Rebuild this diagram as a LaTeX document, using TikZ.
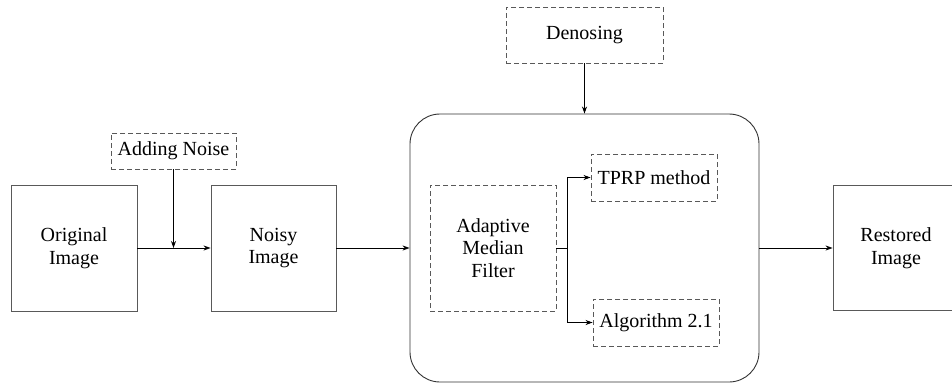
\documentclass[tikz,border=0pt]{standalone}
\usepackage{fontspec}
\setmainfont{Liberation Serif}
\newfontfamily\tnr{Liberation Serif}
\usetikzlibrary{arrows.meta}
\begin{document}
\begin{tikzpicture}[x=1pt,y=-1pt,
  every node/.style={font=\tnr\fontsize{20}{22.5}\selectfont, align=center, inner sep=0pt},
  solidbox/.style={draw=black!65, line width=0.9pt, minimum width=126pt, minimum height=126pt},
  dashbox/.style={draw=black!65, line width=0.9pt, dash pattern=on 5pt off 3pt},
  arr/.style={draw=black, line width=0.8pt, -{Stealth[length=7pt,width=5pt]}},
  ln/.style={draw=black, line width=0.8pt}]
\useasboundingbox (0,0) rectangle (952,383);
\node[solidbox] (orig) at (74,248) {Original\\Image};
\node[solidbox, minimum width=125pt] (noisy) at (273.5,248) {Noisy\\Image};
\node[dashbox, minimum width=125pt, minimum height=36pt] (add) at (173.5,151) {Adding Noise};
\node[dashbox, minimum width=157pt, minimum height=56pt] (den) at (584.5,35) {Denosing};
\node[draw=black!80, line width=0.9pt, rounded corners=30pt, minimum width=349pt, minimum height=268pt] (big) at (584.5,248) {};
\node[dashbox, minimum width=126pt, minimum height=126pt] (amf) at (493,248) {Adaptive\\Median\\Filter};
\node[dashbox, minimum width=126pt, minimum height=47pt] (tprp) at (654,177.5) {TPRP method};
\node[dashbox, minimum width=126pt, minimum height=47pt] (alg) at (656,322.5) {Algorithm 2.1};
\node[solidbox, minimum width=126pt, minimum height=125pt] (rest) at (896,248) {Restored\\Image};
\coordinate (j1) at (173.5,248);
\coordinate (j2) at (567,248);
\draw[arr] (orig.east) -- (noisy.west);
\draw[arr] (add.south) -- (j1);
\draw[arr] (noisy.east) -- (big.west);
\draw[arr] (den.south) -- (big.north);
\draw[ln] (amf.east) -- (j2);
\draw[arr] (j2) |- (tprp.west);
\draw[arr] (j2) |- (alg.west);
\draw[arr] (big.east) -- (rest.west);
\end{tikzpicture}
\end{document}
